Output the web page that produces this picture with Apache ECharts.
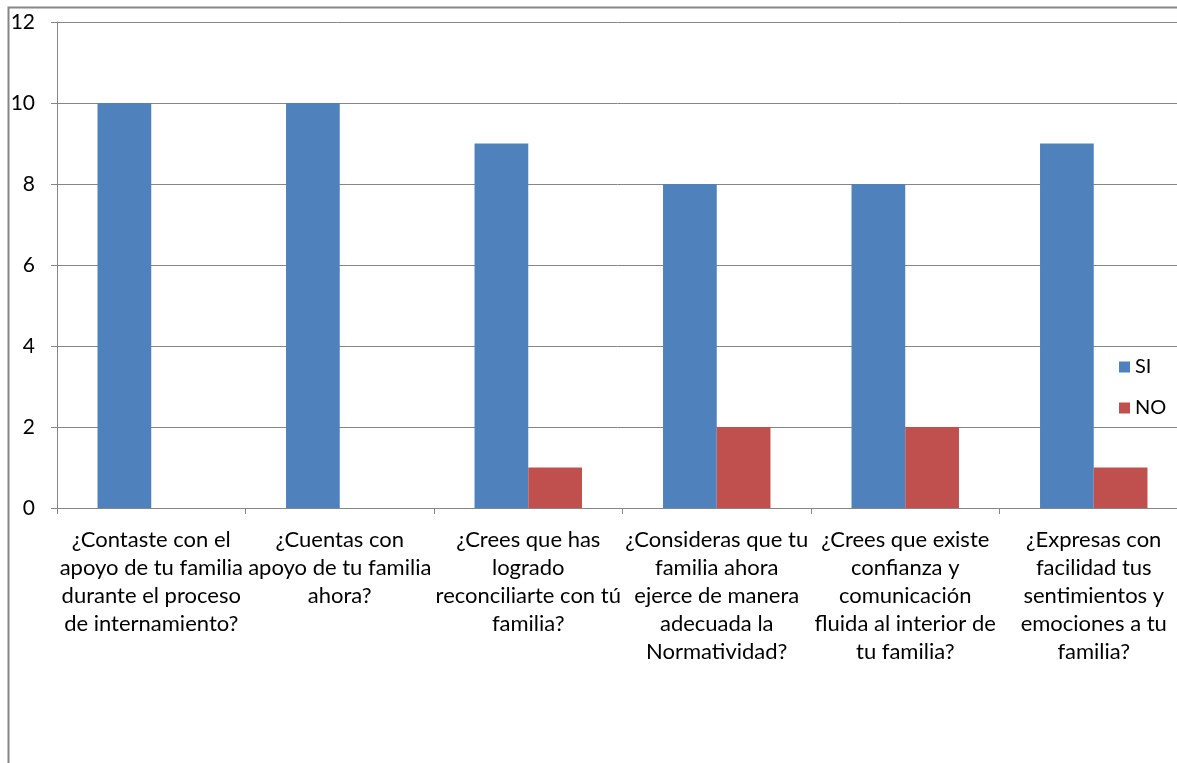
<!DOCTYPE html>
<html>
<head>
<meta charset="utf-8">
<script src="https://cdn.jsdelivr.net/npm/echarts@6/dist/echarts.min.js"></script>
<style>
  html, body { margin: 0; padding: 0; background: #fff; }
  #chart { width: 1177px; height: 763px; }
</style>
</head>
<body>
<div id="chart"></div>
<script>
// Survey questions (wrapped as they appear under the axis)
const categories = [
  '¿Contaste con el\napoyo de tu familia\ndurante el proceso\nde internamiento?',
  '¿Cuentas con\napoyo de tu familia\nahora?',
  '¿Crees que has\nlogrado\nreconciliarte con tú\nfamilia?',
  '¿Consideras que tu\nfamilia ahora\nejerce de manera\nadecuada la\nNormatividad?',
  '¿Crees que existe\nconfianza y\ncomunicación\nfluida al interior de\ntu familia?',
  '¿Expresas con\nfacilidad tus\nsentimientos y\nemociones a tu\nfamilia?'
];
const siValues = [10, 10, 9, 8, 8, 9];
const noValues = [0, 0, 1, 2, 2, 1];
const seriesNames = ['SI', 'NO'];

const FONT = 'Lato, "Open Sans", sans-serif';
const GRAY = '#868686';

const chart = echarts.init(document.getElementById('chart'), null, { renderer: 'canvas' });
chart.setOption({
  animation: false,
  backgroundColor: '#fff',
  textStyle: { fontFamily: FONT },
  graphic: [{
    type: 'rect',
    shape: { x: 8.5, y: 7.5, width: 1300, height: 900 },
    style: { fill: 'none', stroke: GRAY, lineWidth: 2 },
    silent: true,
    z: -1
  }],
  // plot area runs slightly past the right edge of the canvas
  grid: {
    left: 57, top: 22, width: 1131, height: 486,
    containLabel: false,
    outerBoundsMode: 'none'
  },
  legend: {
    orient: 'vertical',
    left: 1114,
    top: 352,
    itemWidth: 11,
    itemHeight: 11,
    itemGap: 21,
    icon: 'rect',
    textStyle: { fontFamily: FONT, fontSize: 20, color: '#000' },
    data: seriesNames
  },
  xAxis: {
    type: 'category',
    data: categories,
    axisLine: { lineStyle: { color: GRAY, width: 1 } },
    axisTick: { show: true, length: 6, lineStyle: { color: GRAY } },
    axisLabel: {
      interval: 0,
      margin: 18,
      fontFamily: FONT,
      fontSize: 22,
      lineHeight: 28,
      color: '#000',
      align: 'center'
    },
    splitLine: { show: false }
  },
  yAxis: {
    type: 'value',
    min: 0,
    max: 12,
    interval: 2,
    axisLine: { show: true, lineStyle: { color: GRAY, width: 1 } },
    axisTick: { show: true, length: 6, lineStyle: { color: GRAY } },
    axisLabel: { margin: 22, fontFamily: FONT, fontSize: 21, color: '#000' },
    splitLine: { show: true, lineStyle: { color: GRAY, width: 1 } }
  },
  series: [
    {
      name: seriesNames[0],
      type: 'bar',
      data: siValues,
      barGap: '0%',
      barCategoryGap: '43%',
      itemStyle: { color: '#4F81BD' }
    },
    {
      name: seriesNames[1],
      type: 'bar',
      data: noValues,
      barGap: '0%',
      barCategoryGap: '43%',
      itemStyle: { color: '#C0504D' }
    }
  ]
});
</script>
</body>
</html>
